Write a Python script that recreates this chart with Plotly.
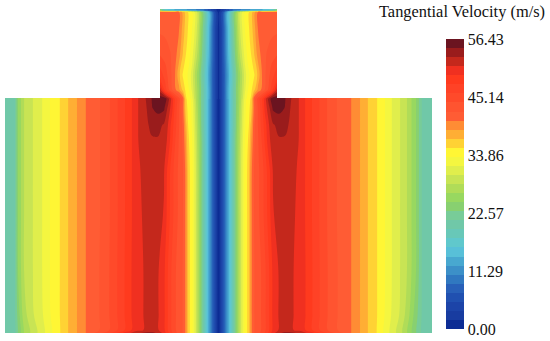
import plotly.graph_objects as go

# Colour bands, low to high
band_colors = ["#0c2c94","#183ca0","#1c44a8","#2050b0","#2860b8","#3078c0","#3c90c8","#48a8d0",
               "#58c0d8","#60c8cc","#68c8b8","#70c8a8","#78cc98","#88d070","#98d860","#b0dc58",
               "#c8e454","#e0ee4c","#f4f640","#fff634","#ffd234","#ffae34","#ff8c34","#ff5c34",
               "#ff5430","#ff4a2a","#ff4226","#ff3a1e","#f03020","#c4281c","#9a1c1c","#6b1420"]
tick_vals = [0.00, 11.29, 22.57, 33.86, 45.14, 56.43]
tick_text = ["0.00", "11.29", "22.57", "33.86", "45.14", "56.43"]
v_max = 56.43

# Main chamber
lower_x_left = [5,15,18,24,33,42,50,60,68,77,86,100,110,118,125,132,138,146,152,158,164,168,172,175,178,180,183,186,188,191,193,196,198,200,203,206,209,212,215,218]
lower_x_right = [219,222,225,228,231,234,237,239,241,244,246,249,251,254,257,259,262,265,269,273,279,285,291,299,305,312,319,327,337,351,360,368,377,385,392,400,407,416,422,432]
lower_y = [98,108,125,140,170,215,270,315,330,333]
lower_rows = [
 [20.5,21,24.7,28.2,30,31.7,33.5,35.3,37,38.8,40.6,42.3,44.1,45.9,47.6,49.4,51.1,53,54.8,56.2,56.2,54,50.5,47.5,45.5,44,41.5,35.5,34.8,33.5,31.5,28,26,24,20.5,17,13,9,5,1],
 [20.5,21,24.7,28.2,30,31.7,33.5,35.3,37,38.8,40.6,42.3,44.1,45.9,47.6,49.4,51.1,52.7,54.6,55.3,55,52.5,50,47,45,43.5,41,35.8,35,33.7,32,28.5,26.3,24.2,20.5,17,13,9,5,1],
 [20.5,21,24.7,28.2,30,31.7,33.5,35.3,37,38.8,40.6,42.3,44.1,45.9,47.6,49.4,51.1,52.6,53.3,53.4,52.7,51.1,48.5,46.5,44.8,43.5,41.8,37.5,35.3,34,32.5,29,26.8,24.5,20.5,17,13,9,5,1],
 [20.5,21,24.7,28.2,30,31.7,33.5,35.3,37,38.8,40.6,42.3,44.1,45.9,47.6,49.4,51.1,52.1,52.75,52.75,52,50.8,48,46,44.5,43.3,42,38.5,35.8,34.2,33,29.5,27,25,21,17,13,9,5,1],
 [20.5,21,24.7,28.2,30,31.7,33.5,35.3,37,38.8,40.6,42.3,44.1,45.9,47.6,49.4,50.9,51.7,52.1,52,51.3,48.8,46.6,45.1,44,43.3,42.3,39.8,36.5,34.5,33.3,30,27.5,25,21,17,13,9,5,1],
 [20.5,21,24.7,28.2,30,31.7,33.5,35.3,37,38.8,40.6,42.3,44.1,45.9,47.6,49.4,50.7,51.6,52,51.8,51,48.5,46.5,45,44,43.3,42.3,39.8,36.5,34.5,33.3,30,27.5,25,21,17,13,9,5,1],
 [20.5,21,24.7,28.2,30,31.7,33.5,35.3,37,38.8,40.6,42.4,44.2,46,47.7,49.5,50.6,51.4,51.7,51.3,49.8,47.5,45.5,44.3,43.6,43,42.2,39.8,36.5,34.5,33.3,30,27.5,25,21,17,13,9,5,1],
 [20.5,21,23.6,27.5,29.8,31.5,33.4,35.3,37,38.8,40.6,42.4,44.2,46,47.7,49.5,50.6,51.4,51.7,51.3,49.8,47.5,45.5,44.3,43.6,43,42.2,39.8,36.5,34.5,33.3,30,27.5,25,21,17,13,9,5,1],
 [20.5,20.8,23,26.5,29,31,33,35.2,37,38.8,40.6,42.4,44.2,46,47.7,49.5,50.6,51.4,51.7,51.3,49.8,47.5,45.5,44.3,43.6,43,42.2,39.8,36.5,34.5,33.3,30,27.5,25,21,17,13,9,5,1],
 [20.5,20.8,23,26.5,29,31,33,35.2,37,38.8,40.6,43.5,46,48,50,51.5,52.5,53.5,53.5,52.5,50.5,48,46,44.5,43.8,43,42.2,39.8,36.5,34.5,33.3,30,27.5,25,21,17,13,9,5,1],
]

# Upper outlet
upper_x_left = [160,165,170,175,179,183,186,189,192,195,198,201,204,207,210,213,216,218.5]
upper_x_right = [221,224,227,230,233,236,239,242,245,248,251,254,258,262,267,272,277]
upper_y = [9,10.5,12,30,55,75,90,99]
upper_rows = [
 [24,17,15,14,13.5,13,12.5,12,11.5,11,10,9.5,9,7.5,6,4,2,1],
 [24,17,15,14,13.5,13,12.5,12,11.5,11,10,9.5,9,7.5,6,4,2,1],
 [42,41.8,41.5,41.2,40.6,38,36,34.8,33.5,31.5,29,25,21.5,17,13,8,4,1],
 [42,41.8,41.5,41.2,40.6,38,36,34.8,33.5,31.5,29,25,21.5,17,13,8,4,1],
 [44,43.5,42.5,41.2,39.5,36.8,35.2,34,32.5,30,27.5,24,20.5,16.5,12.5,8,4,1],
 [47,45,43,40.6,37.5,35,34,33,31,28,25.5,22.5,19,15.5,11.5,7.5,4,1],
 [52,47,43.5,41,39.3,36.5,34.8,33.5,31.5,28.5,26,23,19.5,16,12,7.5,4,1],
 [56,56,52.5,47.5,44.8,41.5,35.5,34.4,32.5,29,26,22.8,19.5,16,12,7.5,4,1],
]

step = v_max / len(band_colors)
n = len(band_colors)
colorscale = []
for i, c in enumerate(band_colors):
    colorscale += [[i / n, c], [(i + 1) / n, c]]

# The right half carries the readings of the left half, listed from the axis outward.
lower_z = [r + r[::-1] for r in lower_rows]
upper_z = [r + r[-2::-1] for r in upper_rows]

contour_common = dict(
    colorscale=colorscale, zmin=0, zmax=v_max, autocontour=False,
    contours=dict(start=0, end=v_max, size=step, coloring="fill", showlines=False),
    line=dict(width=0), hoverinfo="skip",
)

fig = go.Figure()
fig.add_trace(go.Contour(
    x=lower_x_left + lower_x_right, y=lower_y, z=lower_z,
    showscale=True,
    colorbar=dict(
        lenmode="pixels", len=290, thicknessmode="pixels", thickness=18,
        x=446 / 550, xanchor="left", xpad=0, y=1 - 39 / 341, yanchor="top", ypad=0,
        tickmode="array", tickvals=tick_vals, ticktext=tick_text, ticks="", ticklen=0,
        tickfont=dict(family="Liberation Serif", size=16, color="#111111"),
        outlinewidth=0, borderwidth=0,
    ),
    **contour_common,
))
fig.add_trace(go.Contour(
    x=upper_x_left + upper_x_right, y=upper_y, z=upper_z,
    showscale=False,
    **contour_common,
))
fig.add_annotation(
    text="Tangential Velocity (m/s)", x=547, y=11, xref="x", yref="y",
    xanchor="right", yanchor="middle", showarrow=False,
    font=dict(family="Liberation Serif", size=16.4, color="#111111"),
)
fig.update_layout(
    width=550, height=341, margin=dict(l=0, r=0, t=0, b=0),
    paper_bgcolor="white", plot_bgcolor="white", showlegend=False,
    xaxis=dict(range=[0, 550], visible=False, domain=[0, 1], fixedrange=True),
    yaxis=dict(range=[341, 0], visible=False, domain=[0, 1], fixedrange=True),
)
fig.write_html("out.html", config={"displayModeBar": False},
               post_script="document.body.style.margin='0';document.documentElement.style.overflow='hidden';")
